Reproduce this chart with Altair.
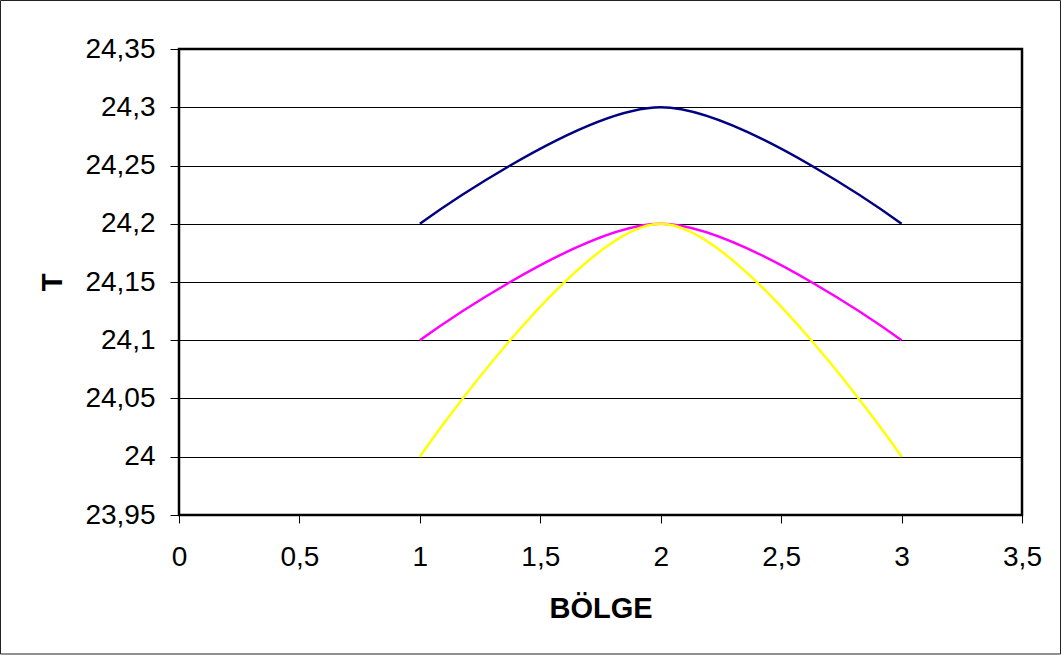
import altair as alt
import pandas as pd

# Measured temperature T at each region (BÖLGE)
bolge = [1, 2, 3]
seri_1 = [24.2, 24.3, 24.2]
seri_2 = [24.1, 24.2, 24.1]
seri_3 = [24.0, 24.2, 24.0]

series_names = ["Seri1", "Seri2", "Seri3"]
series_colors = ["#000080", "#FF00FF", "#FFFF00"]

y_ticks = [23.95, 24.0, 24.05, 24.1, 24.15, 24.2, 24.25, 24.3, 24.35]
x_ticks = [0, 0.5, 1, 1.5, 2, 2.5, 3, 3.5]

rows = []
for name, vals in zip(series_names, [seri_1, seri_2, seri_3]):
    for x, y in zip(bolge, vals):
        rows.append({"BÖLGE": x, "T": y, "seri": name})
df = pd.DataFrame(rows)

FONT = "Liberation Sans"
W, H = 843, 466
PAD = {"left": 179, "top": 49, "right": 1061 - 179 - W, "bottom": 655 - 49 - H}

lines = alt.Chart(df).mark_line(interpolate="cardinal", strokeWidth=2.5).encode(
    x=alt.X(
        "BÖLGE:Q",
        scale=alt.Scale(domain=[0, 3.5], nice=False, zero=False),
        axis=alt.Axis(
            values=x_ticks,
            grid=False,
            domain=False,
            tickColor="black",
            tickSize=8,
            tickWidth=1,
            labelFlush=False,
            labelPadding=20,
            labelFontSize=28,
            labelFont=FONT,
            labelColor="black",
            labelExpr="replace(format(datum.value, '.1~f'), '.', ',')",
            title="BÖLGE",
            titleFont=FONT,
            titleFontSize=29,
            titleFontWeight="bold",
            titleColor="black",
            titleY=102,
            titleBaseline="alphabetic",
        ),
    ),
    y=alt.Y(
        "T:Q",
        scale=alt.Scale(domain=[23.95, 24.35], nice=False, zero=False),
        axis=alt.Axis(
            values=y_ticks,
            grid=True,
            gridColor="black",
            gridWidth=1,
            domain=False,
            tickColor="black",
            tickSize=9,
            tickWidth=1,
            labelFlush=False,
            labelPadding=15,
            labelFontSize=28,
            labelFont=FONT,
            labelColor="black",
            labelExpr="replace(format(datum.value, '.2~f'), '.', ',')",
            title="T",
            titleFont=FONT,
            titleFontSize=29,
            titleFontWeight="bold",
            titleColor="black",
            titleAngle=-90,
            titleX=-118,
            titleY=H / 2,
            titleAlign="center",
            titleBaseline="alphabetic",
        ),
    ),
    color=alt.Color(
        "seri:N",
        scale=alt.Scale(domain=series_names, range=series_colors),
        legend=None,
    ),
)

one_row = pd.DataFrame({"k": [0]})

# Heavy frame around the plot area
plot_frame = alt.Chart(one_row).mark_rect(
    fillOpacity=0, stroke="black", strokeWidth=2.5
).encode(
    x=alt.value(0),
    x2=alt.value(W),
    y=alt.value(0),
    y2=alt.value(H),
)

# Thin frame around the whole chart
outer_frame = alt.Chart(one_row).mark_rect(
    fillOpacity=0, stroke="#222222", strokeWidth=1
).encode(
    x=alt.value(-178.5),
    x2=alt.value(W + 38.5),
    y=alt.value(-48.5),
    y2=alt.value(H + 139),
)

chart = (
    alt.layer(lines, plot_frame, outer_frame)
    .properties(
        width=W,
        height=H,
        padding=PAD,
        background="white",
        autosize=alt.AutoSizeParams(type="none"),
    )
    .configure_view(stroke=None)
)

chart.save("out.html", embed_options={"renderer": "svg", "actions": False})
